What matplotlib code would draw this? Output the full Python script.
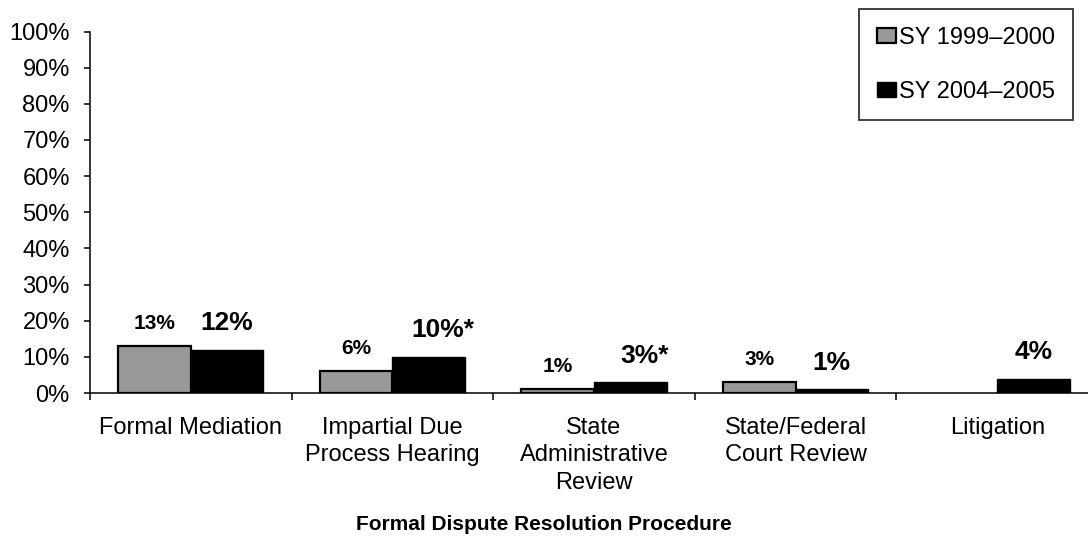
import matplotlib
matplotlib.use("Agg")
import matplotlib.pyplot as plt
import numpy as np

# Share of districts using each formal dispute resolution procedure
categories = [
    "Formal Mediation",
    "Impartial Due\nProcess Hearing",
    "State\nAdministrative\nReview",
    "State/Federal\nCourt Review",
    "Litigation",
]
series_names = ["SY 1999\u20132000", "SY 2004\u20132005"]
values_1999 = [13, 6, 1, 3, None]
values_2004 = [12, 10, 3, 1, 4]
labels_1999 = ["13%", "6%", "1%", "3%", ""]
labels_2004 = ["12%", "10%*", "3%*", "1%", "4%"]
y_ticks = [0, 10, 20, 30, 40, 50, 60, 70, 80, 90, 100]
y_tick_labels = [f"{v}%" for v in y_ticks]
x_title = "Formal Dispute Resolution Procedure"

plt.rcParams["font.family"] = ["Liberation Sans", "DejaVu Sans"]

W, H = 1088, 537
fig = plt.figure(figsize=(W / 100, H / 100), dpi=100)
ax = fig.add_axes([90 / W, (H - 393) / H, 1008 / W, 361.5 / H])

x = np.arange(len(categories)) + 0.5
bw = 0.36
gray = "#999999"

v1 = [np.nan if v is None else v for v in values_1999]
bars1 = ax.bar(x - bw / 2, v1, width=bw, color=gray, edgecolor="black",
               linewidth=1.6, label=series_names[0], zorder=3)
bars2 = ax.bar(x + bw / 2, values_2004, width=bw, color="black", edgecolor="black",
               linewidth=1.0, label=series_names[1], zorder=3)

for xi, v, lab in zip(x, values_1999, labels_1999):
    if v is None:
        continue
    ax.annotate(lab, (xi - bw / 2, v), xytext=(0, 16.5), textcoords="offset points",
                ha="center", va="center", fontsize=15, fontweight="bold")
for xi, v, lab in zip(x, values_2004, labels_2004):
    dx = 10 if lab.endswith("*") else 0
    ax.annotate(lab, (xi + bw / 2, v), xytext=(dx, 19), textcoords="offset points",
                ha="center", va="center", fontsize=19, fontweight="bold")

ax.set_xlim(0, len(categories))
ax.set_ylim(0, 100)
ax.set_yticks(y_ticks)
ax.set_yticklabels(y_tick_labels, fontsize=17)
ax.tick_params(axis="y", direction="out", length=4.5, width=1.1, pad=10)

ax.set_xticks(np.arange(len(categories) + 1))
ax.set_xticklabels([""] * (len(categories) + 1))
ax.set_xticks(x, minor=True)
ax.set_xticklabels(categories, minor=True, fontsize=17, linespacing=1.33)
ax.tick_params(axis="x", which="major", direction="out", length=5, width=1.1)
ax.tick_params(axis="x", which="minor", length=0, pad=17)

for side in ("top", "right"):
    ax.spines[side].set_visible(False)
for side in ("left", "bottom"):
    ax.spines[side].set_linewidth(1.1)
ax.spines["bottom"].set_zorder(4)

fig.text(0.5, (H - 525) / H, x_title, ha="center", va="center",
         fontsize=15, fontweight="bold")

leg = fig.legend(handles=[bars1, bars2], labels=series_names,
                 loc="upper right", bbox_to_anchor=(1073 / W, 1 - 9 / H),
                 fontsize=17, frameon=True, fancybox=False, borderaxespad=0,
                 borderpad=0.75, labelspacing=1.35, handlelength=0.8,
                 handleheight=0.6, handletextpad=0.15)
leg.get_frame().set_edgecolor("black")
leg.get_frame().set_linewidth(1.3)

fig.savefig("out.png", dpi=100)
